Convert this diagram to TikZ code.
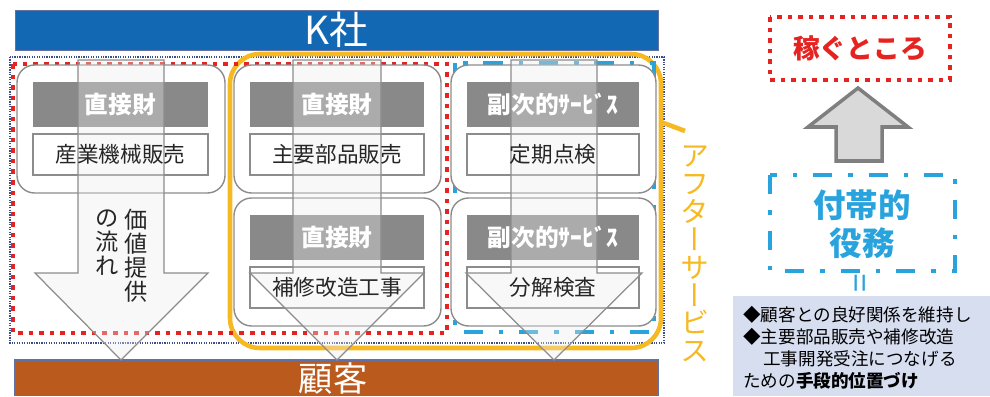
\documentclass[tikz,border=0pt]{standalone}
\usepackage{fontspec}
\setmainfont{Noto Sans CJK JP}
\newfontfamily\vjp[RawFeature=+vert]{Noto Sans CJK JP}
\usetikzlibrary{calc}
\definecolor{kblue}{HTML}{1268B3}
\definecolor{kbrown}{HTML}{BB5A1D}
\definecolor{kred}{HTML}{E52421}
\definecolor{kcyan}{HTML}{29A3DD}
\definecolor{kyellow}{HTML}{F6B921}
\definecolor{hdrgray}{HTML}{898989}
\definecolor{lineg}{HTML}{8C8C8C}
\definecolor{navyd}{HTML}{3B4E8C}
\definecolor{boxbg}{HTML}{D6DEF0}
\definecolor{txtdark}{HTML}{262626}
\definecolor{arrfill}{HTML}{D9D9D9}
\definecolor{arrline}{HTML}{7F7F7F}
\tikzset{
  cardbox/.style={draw=lineg, line width=0.8pt, fill=white, rounded corners=10pt},
  hdrbox/.style={fill=hdrgray},
  bodybox/.style={draw=lineg, line width=0.6pt, fill=white},
  hdrtext/.style={text=white, font=\bfseries\fontsize{13.5}{14}\selectfont, inner sep=0pt},
  bodytext/.style={text=txtdark, font=\fontsize{12.3}{13}\selectfont, inner sep=0pt},
  flowarrow/.style={draw=lineg, line width=0.7pt, fill=black!8, fill opacity=0.35, line join=miter},
  reddots/.style={draw=kred, line width=2.2pt, dash pattern=on 2.6pt off 3.4pt},
  bluedashdot/.style={draw=kcyan, line width=2pt, dash pattern=on 11pt off 9pt on 2.6pt off 9pt},
  navydots/.style={draw=navyd, line width=0.7pt, dash pattern=on 0.7pt off 0.7pt},
  yellowframe/.style={draw=kyellow, line width=2.6pt, rounded corners=17pt},
  boxline/.style={anchor=west, inner sep=0pt, text=black, font=\fontsize{10}{11}\selectfont},
}
\newcommand{\mycard}[3]{%
  \draw[cardbox] (#1,#3) rectangle (#2,#3+128);
  \fill[hdrbox] (#1+16,#3+17) rectangle (#2-17,#3+62);
  \draw[bodybox] (#1+16,#3+69) rectangle (#2-17,#3+110);
}
\newcommand{\mycardtext}[6]{%
  \node[hdrtext] (#6h) at ({(#1+#2-1)/2},#3+39.5) {#4};
  \node[bodytext] (#6b) at ({(#1+#2-1)/2},#3+89.5) {#5};
}
\newcommand{\myflow}[5]{%
  \draw[flowarrow] (#1,60) -- (#2,60) -- (#2,273) -- (#4,273) -- (#5,360) -- (#3,273) -- (#1,273) -- cycle;
}
\begin{document}
\begin{tikzpicture}[x=0.02cm,y=-0.02cm]
\useasboundingbox (0,0) rectangle (990,396);
% K company bar
\fill[kblue] (15,10) rectangle (658,50);
\draw[draw=navyd!80, line width=0.5pt] (15,10) rectangle (658,50);
\node[text=white, font=\fontsize{22}{22}\selectfont, inner sep=0pt] (kco) at (336,30) {K社};
% customer bar
\fill[kbrown] (15,360) rectangle (658,396);
\draw[draw=navyd!80, line width=0.6pt] (15,396) -- (15,360) -- (658,360) -- (658,396);
\node[text=white, font=\fontsize{19.5}{20}\selectfont, inner sep=0pt] (cust) at (333,379) {顧客};
% frames
\draw[navydots] (10,57) rectangle (664,343);
\draw[yellowframe] (230,54) rectangle (661,348);
\draw[reddots] (13,64) rectangle (447,333);
\draw[bluedashdot] (455,63) rectangle (654,332);
% yellow bracket tick
\draw[draw=kyellow, line width=2.6pt] (661,122) -- (685,131);
% cards
\mycard{17}{225}{65}
\mycard{234}{441}{65}
\mycard{234}{441}{198}
\mycard{451}{656}{65}
\mycard{451}{656}{198}
% flow arrows
\myflow{78}{164}{35}{208}{121}
\myflow{293}{381}{250}{424}{337}
\myflow{511}{597}{466}{642}{554}
% card texts
\mycardtext{17}{225}{65}{直接財}{産業機械販売}{c1}
\mycardtext{234}{441}{65}{直接財}{主要部品販売}{c2}
\mycardtext{234}{441}{198}{直接財}{補修改造工事}{c3}
\mycardtext{451}{656}{65}{副次的ｻｰﾋﾞｽ}{定期点検}{c4}
\mycardtext{451}{656}{198}{副次的ｻｰﾋﾞｽ}{分解検査}{c5}
% flow label
\node[text=txtdark, font=\fontsize{13.2}{13.6}\selectfont, align=center, inner sep=0pt] (flowA) at (136,256) {価\\値\\提\\供};
\node[text=txtdark, font=\fontsize{13.2}{13.6}\selectfont, align=center, inner sep=0pt] (flowB) at (107,243) {の\\流\\れ};
% after service vertical label
\node[text=kyellow, font=\vjp\fontsize{16.5}{15.9}\selectfont, align=center, inner sep=0pt] (after) at (695,254) {ア\\フ\\タ\\ー\\サ\\ー\\ビ\\ス};
% right side
\draw[reddots] (770,17) rectangle (950,80);
\node[text=kred, font=\bfseries\fontsize{15.2}{16}\selectfont, inner sep=0pt] (earn) at (860,48) {稼ぐところ};
\draw[draw=arrline, fill=arrfill, line width=2pt, line join=miter] (858,88) -- (908,127) -- (882,127) -- (882,161) -- (836,161) -- (836,127) -- (808,127) -- cycle;
\draw[bluedashdot] (770,175) rectangle (955,271);
\node[text=kcyan, font=\bfseries\fontsize{18.5}{21.5}\selectfont, align=center, inner sep=0pt] (incid) at (862,224) {付帯的\\役務};
\node[text=kcyan, font=\fontsize{19}{19}\selectfont, rotate=90, inner sep=0pt] (eqs) at (864,283) {=};
\fill[boxbg] (733,296) rectangle (990,396);
\node[boxline] (l1) at (743,315) {◆顧客との良好関係を維持し};
\node[boxline] (l2) at (743,337) {◆主要部品販売や補修改造};
\node[boxline] (l3) at (763,359) {工事開発受注につなげる};
\node[boxline] (l4) at (743,381) {ための\textbf{手段的位置づけ}};
\end{tikzpicture}
\end{document}
